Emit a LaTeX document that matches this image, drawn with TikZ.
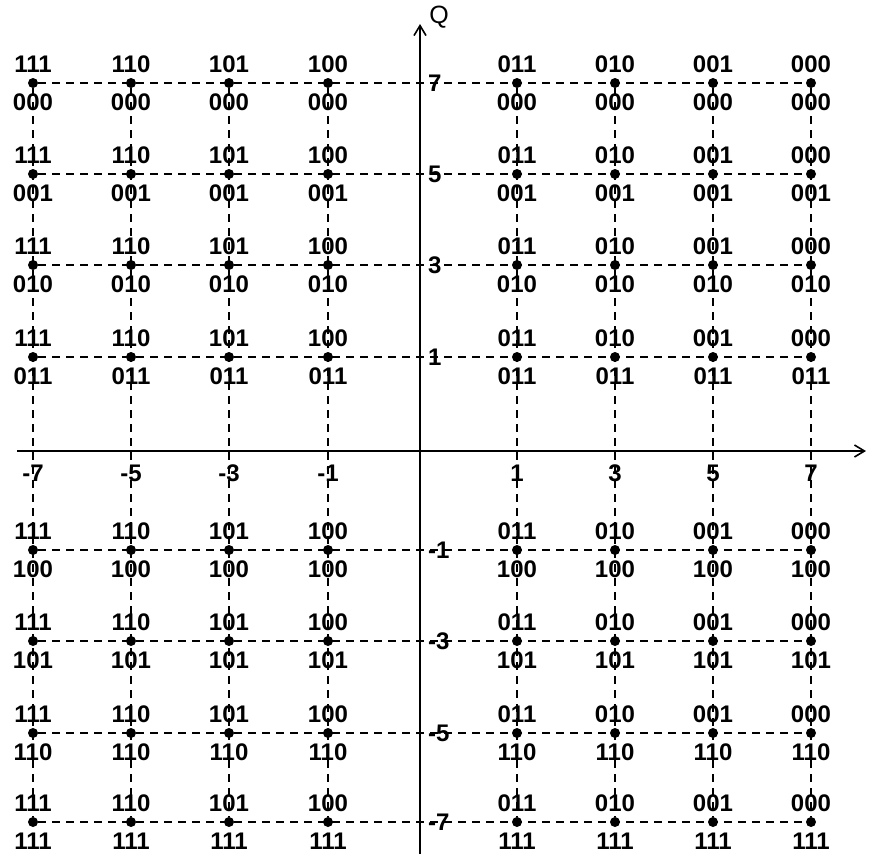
\documentclass[tikz,border=0pt]{standalone}
\usepackage{fontspec}
\setmainfont{Liberation Sans}
\usetikzlibrary{arrows.meta}

\begin{document}
\begin{tikzpicture}[
  x=1pt, y=-1pt,
  dot/.style={circle, fill=black, inner sep=0pt, minimum size=10pt},
  bits/.style={font=\fontsize{24}{24}\selectfont\bfseries, inner sep=0pt},
  tck/.style={font=\fontsize{24}{24}\selectfont\bfseries, inner sep=0pt},
  gridline/.style={dash pattern=on 8pt off 6pt, line width=1.5pt},
  axisline/.style={line width=1.6pt, -{Straight Barb[length=10pt, width=12pt]}},
]
\useasboundingbox (0,0) rectangle (870,854);

%% ---- axes ----
\coordinate (xs) at (17,451);
\coordinate (xe) at (866,451);
\coordinate (ys) at (420,854);
\coordinate (ye) at (420,24);
\draw[axisline] (xs) -- (xe);
\draw[axisline] (ys) -- (ye);
\node[font=\fontsize{25}{25}\selectfont, inner sep=0pt] (qlbl) at (439,17) {Q};

%% ---- constellation points (I bits above, Q bits below) ----
\foreach \i/\x/\ib in {1/33/111, 2/131/110, 3/229/101, 4/328/100,
                       5/517/011, 6/615/010, 7/713/001, 8/811/000}
  \foreach \j/\y/\qb in {1/83/000, 2/174/001, 3/265/010, 4/357/011,
                         5/550/100, 6/641/101, 7/733/110, 8/822/111}
  {
    \node[dot] (pt-\i-\j) at (\x,\y) {};
    \node[bits] (ib-\i-\j) at (\x,\y-19) {\ib};
    \node[bits] (qb-\i-\j) at (\x,\y+19) {\qb};
  }

%% ---- dashed grid ----
\foreach \j in {1,...,8}
  \draw[gridline] (pt-1-\j) -- (pt-8-\j);
\foreach \i in {1,...,8}
  \draw[gridline] (pt-\i-1) -- (pt-\i-8);

%% ---- tick labels ----
\foreach \i/\x/\v in {1/33/-7, 2/131/-5, 3/229/-3, 4/328/-1,
                      5/517/1, 6/615/3, 7/713/5, 8/811/7}
  \node[tck] (tx-\i) at (\x,473) {\v};
\foreach \j/\y/\v in {1/83/7, 2/174/5, 3/265/3, 4/357/1,
                      5/550/-1, 6/641/-3, 7/733/-5, 8/822/-7}
  \node[tck, anchor=west] (ty-\j) at (428,\y) {\v};

\end{tikzpicture}
\end{document}
